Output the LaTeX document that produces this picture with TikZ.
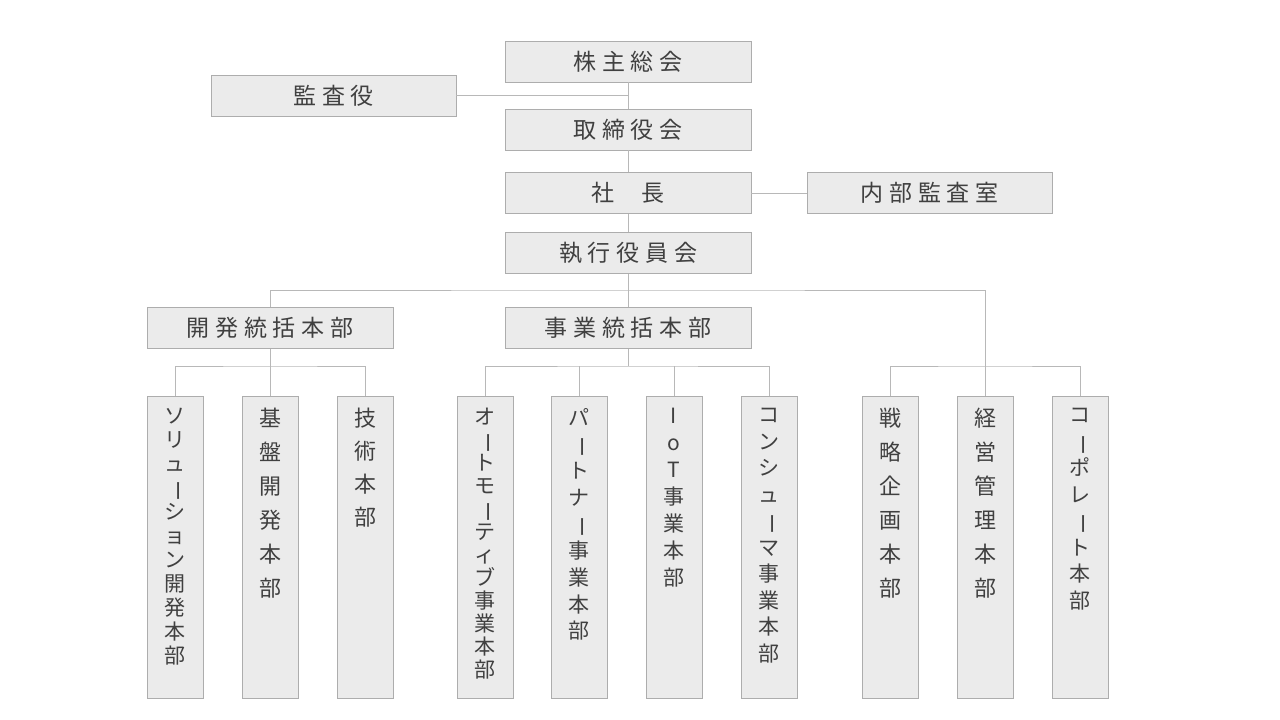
\documentclass[tikz,border=0pt]{standalone}
\usepackage{fontspec}
\setmainfont{Noto Sans CJK JP}
\newfontfamily\hfont[LetterSpace=25]{Noto Sans CJK JP}
\newcommand{\vbar}{\rotatebox[origin=c]{-90}{ー}}
\begin{document}
\begin{tikzpicture}[x=1pt,y=-1pt,
  box/.style={draw=black!32,fill=black!8,line width=0.8pt},
  ln/.style={draw=black!28,line width=0.9pt},
  htxt/.style={text=black!75,font=\hfont\fontsize{23}{23}\selectfont,inner sep=0},
  vtxt/.style={text=black!75,anchor=north,align=center,inner sep=0}]
\useasboundingbox (0,0) rectangle (1280,720);
% horizontal boxes
\foreach \n/\x/\y/\w/\t in {kabu/628/61.5/246/株主総会, kansa/333.5/95.5/245/監査役, tori/628/129.5/246/取締役会,
  sha/628/193/246/{社\hspace{28pt}長}, naibu/929.5/193/245/内部監査室, shikko/628/253/246/執行役員会,
  kaihatsu/270/328/246/開発統括本部, jigyo/628/328/246/事業統括本部}
  \node[box,htxt,minimum width=\w,minimum height=41] (\n) at (\x,\y) {\t};
% vertical boxes
\foreach \n/\x in {sol/175,kib/270,gij/365,aut/485,par/579,iot/674,con/769,sen/890,kei/985,cor/1080}
  \node[box,minimum width=56,minimum height=302,anchor=north] (\n) at (\x,396) {};
\node[vtxt,font=\fontsize{21}{24}\selectfont] at (175,408) {ソ\\リ\\ュ\\\vbar\\シ\\ョ\\ン\\開\\発\\本\\部};
\node[vtxt,font=\fontsize{22}{34}\selectfont] at (270,408) {基\\盤\\開\\発\\本\\部};
\node[vtxt,font=\fontsize{22}{33}\selectfont] at (365,408) {技\\術\\本\\部};
\node[vtxt,font=\fontsize{21}{23}\selectfont] at (485,408) {オ\\\vbar\\ト\\モ\\\vbar\\テ\\ィ\\ブ\\事\\業\\本\\部};
\node[vtxt,font=\fontsize{21}{26.7}\selectfont] at (579,408) {パ\\\vbar\\ト\\ナ\\\vbar\\事\\業\\本\\部};
\node[vtxt,font=\fontsize{21}{27}\selectfont] at (674,408) {I\\o\\T\\事\\業\\本\\部};
\node[vtxt,font=\fontsize{21}{26.5}\selectfont] at (769,408) {コ\\ン\\シ\\ュ\\\vbar\\マ\\事\\業\\本\\部};
\node[vtxt,font=\fontsize{22}{34}\selectfont] at (890,408) {戦\\略\\企\\画\\本\\部};
\node[vtxt,font=\fontsize{22}{34}\selectfont] at (985,408) {経\\営\\管\\理\\本\\部};
\node[vtxt,font=\fontsize{21}{26.5}\selectfont] at (1080,408) {コ\\\vbar\\ポ\\レ\\\vbar\\ト\\本\\部};
% connectors
\draw[ln] (kabu) -- (tori);
\draw[ln] (kansa.east) -- (kansa.east -| kabu.south);
\draw[ln] (tori) -- (sha);
\draw[ln] (sha) -- (naibu);
\draw[ln] (sha) -- (shikko);
\draw[ln] (shikko.south) -- (628,290);
\draw[ln] (kaihatsu.north) |- (628,290) -| (kei.north);
\draw[ln] (628,290) -- (jigyo.north);
\draw[ln] (kaihatsu.south) -- (270,366);
\draw[ln] (sol.north) |- (270,366) -| (gij.north);
\draw[ln] (270,366) -- (kib.north);
\draw[ln] (jigyo.south) -- (628,366);
\draw[ln] (aut.north) |- (628,366) -| (con.north);
\draw[ln] (par.north) -- (par.north |- 0,366);
\draw[ln] (iot.north) -- (iot.north |- 0,366);
\draw[ln] (sen.north) |- (985,366) -| (cor.north);
\end{tikzpicture}
\end{document}
